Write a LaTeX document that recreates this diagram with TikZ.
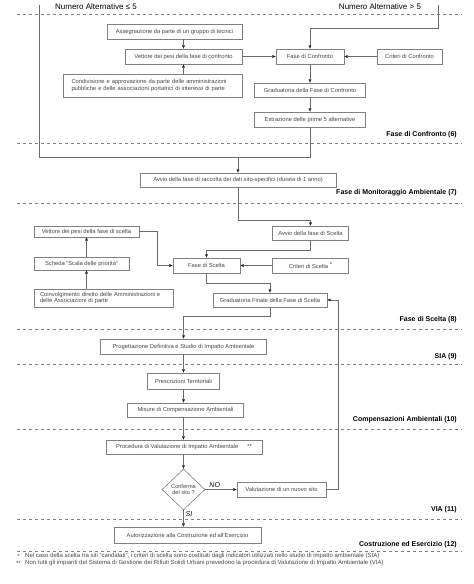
\documentclass[tikz,border=0pt]{standalone}
\usepackage{fontspec}
\setmainfont{Liberation Sans}
\usetikzlibrary{arrows.meta,shapes.geometric}
\definecolor{bordergray}{gray}{0.5}
\definecolor{txtgray}{gray}{0.28}
\definecolor{linegray}{gray}{0.42}
\begin{document}
\begin{tikzpicture}[x=1pt,y=-1pt,
  box/.style={draw=bordergray, line width=0.6pt, inner sep=0pt, font=\fontsize{5.8}{6.8}\selectfont, text=txtgray},
  conn/.style={draw=linegray, line width=0.6pt},
  arr/.style={conn, -{Triangle[length=3.4pt,width=2.8pt,color=black!85]}},
  phase/.style={anchor=east, inner sep=0pt, font=\bfseries\fontsize{7}{8}\selectfont},
  sep/.style={draw=bordergray, line width=0.5pt, dash pattern=on 3pt off 3pt},
  toplabel/.style={inner sep=0pt, font=\fontsize{8}{9}\selectfont},
  yn/.style={inner sep=0pt, font=\itshape\fontsize{7}{8}\selectfont},
  note/.style={anchor=west, inner sep=0pt, font=\fontsize{6}{7}\selectfont, text=txtgray}]
\useasboundingbox (0,0) rectangle (474,584);
\fill[white] (0,0) rectangle (474,584);

% separators
\foreach \yy in {14,143,203,329,364,429,519,551}
  \draw[sep] (17,\yy) -- (462,\yy);

% top labels
\node[toplabel] (nle) at (96,7) {Numero Alternative ≤ 5};
\node[toplabel] (ngt) at (380,7) {Numero Alternative > 5};

% phase labels
\node[phase] (p6) at (457,135) {Fase di Confronto (6)};
\node[phase] (p7) at (457,193) {Fase di Monitoraggio Ambientale (7)};
\node[phase] (p8) at (457,320) {Fase di Scelta (8)};
\node[phase] (p9) at (457,357) {SIA (9)};
\node[phase] (p10) at (457,420) {Compensazioni Ambientali (10)};
\node[phase] (p11) at (457,510) {VIA (11)};
\node[phase] (p12) at (457,545) {Costruzione ed Esercizio (12)};

% Fase di confronto
\node[box, minimum width=135pt, minimum height=15pt] (ass) at (174.5,31.5) {Assegnazione da parte di un gruppo di tecnici};
\node[box, minimum width=117pt, minimum height=15pt] (vpc) at (183.5,56.5) {Vettore dei pesi della fase di confronto};
\node[box, minimum width=179pt, minimum height=23pt, align=left, text width=162pt] (cond) at (152.5,85.5) {Condivisione e approvazione da parte delle amministrazioni\\pubbliche e delle associazioni portatrici di interessi di parte};
\node[box, minimum width=68pt, minimum height=15pt] (fc) at (310,56.5) {Fase di Confronto};
\node[box, minimum width=65pt, minimum height=15pt] (cc) at (409.5,56.5) {Criteri di Confronto};
\node[box, minimum width=111pt, minimum height=14pt] (gc) at (310,90) {Graduatoria della Fase di Confronto};
\node[box, minimum width=111pt, minimum height=15pt] (est) at (310,119.5) {Estrazione delle prime 5 alternative};

% Monitoraggio
\node[box, minimum width=196pt, minimum height=14pt] (avr) at (238,180) {Avvio della fase di raccolta dei dati sito-specifici (durata di 1 anno)};

% Fase di scelta
\node[box, minimum width=105pt, minimum height=11pt] (vps) at (86.5,231.5) {Vettore dei pesi della fase di scelta};
\node[box, minimum width=95pt, minimum height=13pt] (sch) at (81.5,263.5) {Scheda "Scala delle priorità"};
\node[box, minimum width=139pt, minimum height=18pt, align=left, text width=127pt] (coin) at (103.5,298) {Coinvolgimento diretto delle Amministrazioni e\\delle Associazioni di parte};
\node[box, minimum width=67pt, minimum height=15pt] (fs) at (206.5,265.5) {Fase di Scelta};
\node[box, minimum width=76pt, minimum height=14pt] (avs) at (310.5,233) {Avvio della fase di Scelta};
\node[box, minimum width=76pt, minimum height=15pt] (crs) at (310.5,265.5) {Criteri di Scelta \raisebox{1.2pt}{*}};
\node[box, minimum width=114pt, minimum height=14pt] (gf) at (270,300) {Graduatoria Finale della Fase di Scelta};

% SIA .. Costruzione
\node[box, minimum width=166pt, minimum height=15pt] (prog) at (183.5,346.5) {Progettazione Definitiva e Studio di Impatto Ambientale};
\node[box, minimum width=72pt, minimum height=16pt] (pres) at (183.5,381) {Prescrizioni Territoriali};
\node[box, minimum width=116pt, minimum height=14pt] (mis) at (185.5,410) {Misure di Compensazione Ambientali};
\node[box, minimum width=156pt, minimum height=14pt] (proc) at (184,447) {Procedura di Valutazione di Impatto Ambientale\hspace{9pt}**};
\node[box, diamond, aspect=1.05, minimum width=43pt, minimum height=41pt, align=center, font=\fontsize{5.6}{6.8}\selectfont] (dia) at (183.5,489.5) {Conferma\\del sito ?};
\node[box, minimum width=89pt, minimum height=15pt] (val) at (281.5,489.5) {Valutazione di un nuovo sito};
\node[box, minimum width=147pt, minimum height=16pt] (aut) at (187.5,535) {Autorizzazione alla Costruzione ed all'Esercizio};

% connectors: confronto
\coordinate (tl) at (39,5);
\coordinate (tr) at (438,5);
\coordinate (trb) at (438,28);
\coordinate (jn) at (238,157);
\draw[arr] (ass.south -| vpc) -- (vpc.north);
\draw[arr] (cond.north -| vpc) -- (vpc.south);
\draw[arr] (vpc.east) -- (fc.west);
\draw[arr] (cc.west) -- (fc.east);
\draw[arr] (tr) -- (trb) -| (fc.north);
\draw[arr] (fc.south) -- (gc.north);
\draw[arr] (gc.south) -- (est.north);
\draw[conn] (tl) |- (jn);
\draw[conn] (est.south) |- (jn);
\draw[arr] (jn) -- (avr.north);

% connectors: scelta
\draw[arr] (avr.south) -- ++(0,33) -| (avs.north);
\draw[arr] (vps.east) -- ++(18,0) |- (fs.west);
\draw[arr] (sch.north -| vps) -- (vps.south);
\draw[arr] (coin.north -| vps) -- (vps |- sch.south);
\draw[arr] (avs.south) -- ++(0,10) -| (fs.north);
\draw[arr] (crs.west) -- (fs.east);
\draw[arr] (fs.south) -- ++(0,10) -| (gf.north);
\draw[arr] (gf.south) -- ++(0,9) -| (prog.north);

% connectors: main column
\draw[arr] (prog.south) -- (pres.north);
\draw[arr] (pres.south) -- (pres.south |- mis.north);
\draw[arr] (pres.south |- mis.south) -- (pres.south |- proc.north);
\draw[arr] (pres.south |- proc.south) -- (dia.north);
\draw[arr] (dia.south) -- (dia.south |- aut.north);
\draw[arr] (dia.east) -- node[yn, above=1.5pt, pos=0.3] (no) {NO} (val.west);
\draw[arr] (val.east) -- ++(12,0) |- (gf.east);
\node[yn, anchor=west] (si) at (185.5,514) {SI};

% footnotes
\node[note, anchor=center] (m1) at (18.5,556.5) {*};
\node[note] (n1) at (25,556) {Nel caso della scelta tra siti "candidati", i criteri di scelta sono costituiti dagli indicatori utilizzati nello studio di impatto ambientale (SIA)};
\node[note, anchor=center] (m2) at (18.5,563.5) {**};
\node[note] (n2) at (25,563) {Non tutti gli impianti del Sistema di Gestione dei Rifiuti Solidi Urbani prevedono la procedura di Valutazione di Impatto Ambientale (VIA)};
\end{tikzpicture}
\end{document}
